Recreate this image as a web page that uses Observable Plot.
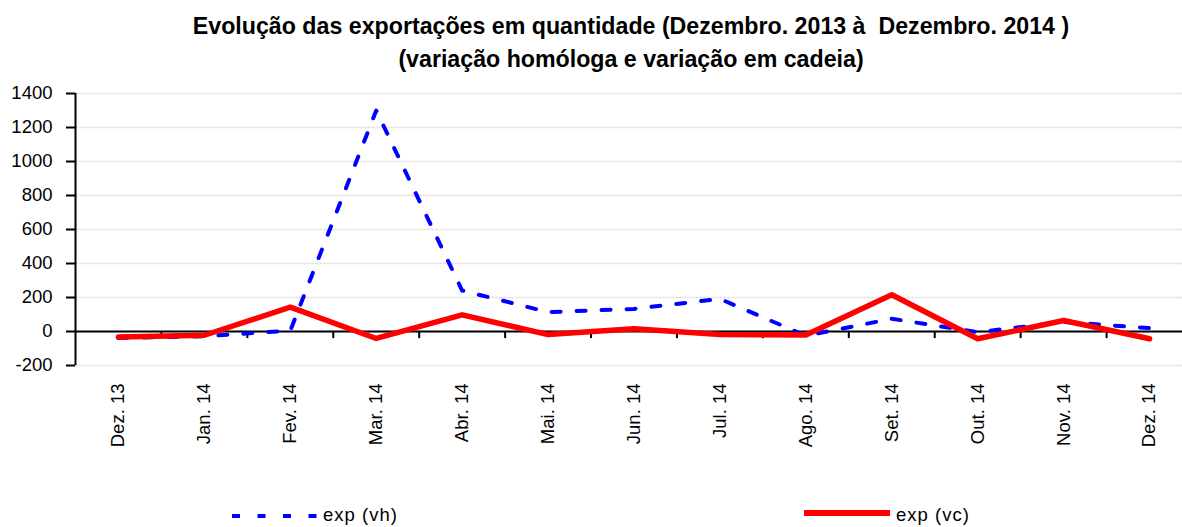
<!DOCTYPE html>
<html>
<head>
<meta charset="utf-8">
<script src="https://cdn.jsdelivr.net/npm/d3@7"></script>
<script src="https://cdn.jsdelivr.net/npm/@observablehq/plot@0.6"></script>
<style>
  html, body { margin: 0; padding: 0; background: #fff; }
  body { width: 1182px; height: 527px; position: relative; overflow: hidden; font-family: "Liberation Sans", Arial, sans-serif; }
  #title { position: absolute; left: 0; top: 10px; width: 1262px; text-align: center; font-weight: bold; font-size: 23.2px; line-height: 33px; color: #000; }
  #chart { position: absolute; left: 0; top: 80px; }
  .leg { position: absolute; font-size: 18.5px; letter-spacing: 1px; color: #000; }
  .sw { position: absolute; }
</style>
</head>
<body>
<div id="title">Evolução das exportações em quantidade (Dezembro. 2013 à&nbsp; Dezembro. 2014 )<br>(variação homóloga e variação em cadeia)</div>
<div id="chart"></div>
<div id="legend"></div>
<script>
const months = ["Dez. 13", "Jan. 14", "Fev. 14", "Mar. 14", "Abr. 14", "Mai. 14", "Jun. 14", "Jul. 14", "Ago. 14", "Set. 14", "Out. 14", "Nov. 14", "Dez. 14"];
const vh = [-38, -28, 5, 1300, 241, 114, 133, 192, -25, 75, -4, 56, 20];
const vc = [-33, -22, 143, -41, 98, -18, 16, -18, -20, 216, -43, 65, -43];
const yTicks = [-200, 0, 200, 400, 600, 800, 1000, 1200, 1400];
const seriesNames = ["exp (vh)", "exp (vc)"];

const rows = months.map((m, i) => ({i, vh: vh[i], vc: vc[i]}));
const boundaries = d3.range(months.length - 1).map(i => i + 0.5);

const chart = Plot.plot({
  width: 1182,
  height: 380,
  marginTop: 13,
  marginBottom: 95,
  marginLeft: 75,
  marginRight: 0,
  style: {fontFamily: "Liberation Sans, Arial, sans-serif", fontSize: "18.5px", color: "#000", background: "#fff"},
  x: {type: "linear", domain: [-0.5, months.length - 0.5], range: [75, 1192]},
  y: {domain: [-200, 1400]},
  marks: [
    Plot.ruleY(yTicks, {stroke: "#e0e0e0", strokeWidth: 1.5, strokeDasharray: "3,1"}),
    Plot.axisY({ticks: yTicks, tickSize: 9, tickPadding: 14, strokeWidth: 2, tickFormat: d => String(d), label: null}),
    Plot.axisX({ticks: d3.range(months.length), tickFormat: i => months[i], tickRotate: -90, tickSize: 0, tickPadding: 18, label: null}),
    Plot.ruleX([-0.5], {y1: -200, y2: 1400, stroke: "#000", strokeWidth: 2}),
    Plot.ruleY([0], {stroke: "#000", strokeWidth: 2}),
    Plot.ruleX(boundaries, {y1: 0, y2: -42, stroke: "#000", strokeWidth: 2}),
    Plot.line(rows, {x: "i", y: "vh", stroke: "#0000ff", strokeWidth: 4, strokeDasharray: "9,16"}),
    Plot.line(rows, {x: "i", y: "vc", stroke: "#ff0000", strokeWidth: 5.5})
  ]
});
document.getElementById("chart").appendChild(chart);

const legend = document.getElementById("legend");
legend.innerHTML = `
  <svg class="sw" style="left:230px;top:510px" width="92" height="12"><line x1="2" y1="6" x2="90" y2="6" stroke="#0000ff" stroke-width="4" stroke-dasharray="8,17.5"/></svg>
  <div class="leg" style="left:323px;top:504px">${seriesNames[0]}</div>
  <svg class="sw" style="left:804px;top:507px" width="88" height="12"><line x1="0" y1="6" x2="86" y2="6" stroke="#ff0000" stroke-width="6"/></svg>
  <div class="leg" style="left:896px;top:504px">${seriesNames[1]}</div>`;
</script>
</body>
</html>
